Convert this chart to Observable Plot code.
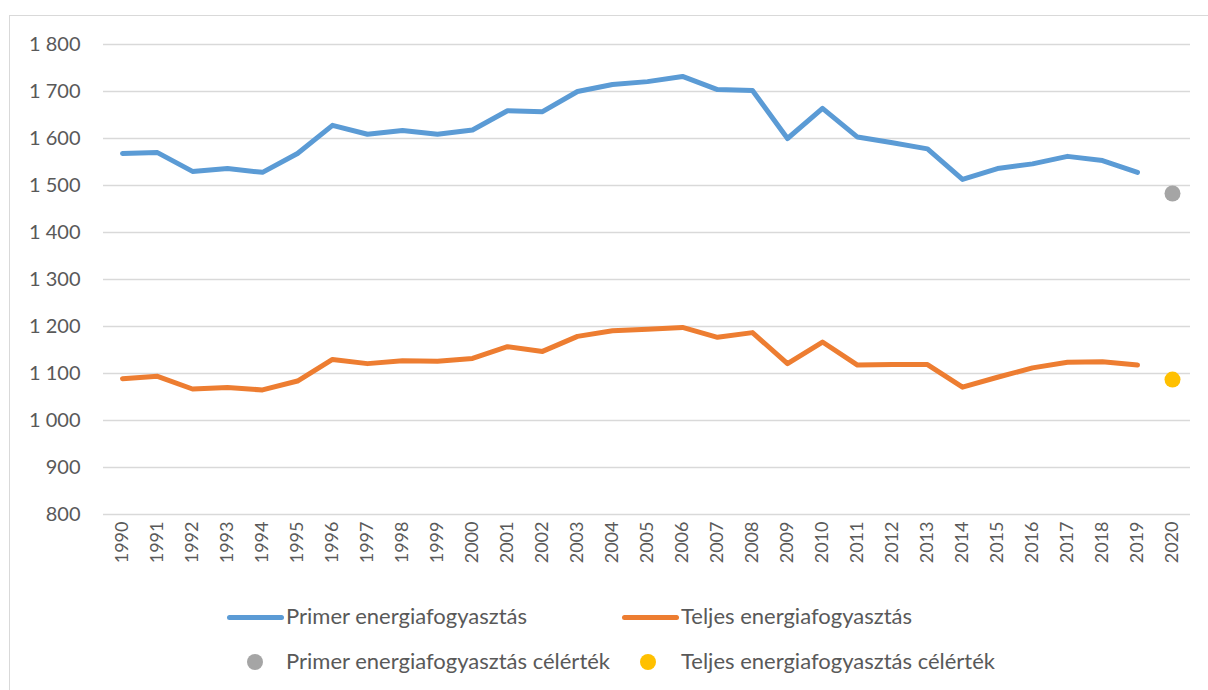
<!DOCTYPE html>
<html>
<head>
<meta charset="utf-8">
<script src="https://cdn.jsdelivr.net/npm/d3@7"></script>
<script src="https://cdn.jsdelivr.net/npm/@observablehq/plot@0.6"></script>
<style>
  html, body { margin: 0; padding: 0; background: #fff; overflow: hidden; width: 1208px; height: 690px; }
  #frame { position: absolute; left: 9px; top: 15px; width: 1400px; height: 900px; border-top: 1.5px solid #d9d9d9; border-left: 1.5px solid #d9d9d9; box-sizing: border-box; }
  #chart { position: absolute; left: 9px; top: 15px; }
  .leg { position: absolute; font-family: Lato, "Open Sans", sans-serif; font-size: 22px; color: #595959; white-space: nowrap; line-height: 1; }
  .sw-line { position: absolute; height: 5px; border-radius: 3px; }
  .sw-dot { position: absolute; width: 16px; height: 16px; border-radius: 50%; }
</style>
</head>
<body>
<div id="frame"></div>
<div id="chart"></div>
<div id="legend"></div>
<script>
const years = d3.range(1990, 2021);
const lineYears = d3.range(1990, 2020);
const primerValues = [1568, 1570, 1530, 1536, 1528, 1568, 1628, 1609, 1617, 1609,
  1618, 1659, 1657, 1700, 1715, 1721, 1732, 1704, 1702, 1600,
  1664, 1603, 1591, 1578, 1513, 1536, 1546, 1562, 1553, 1528];
const teljesValues = [1089, 1094, 1067, 1070, 1065, 1084, 1130, 1121, 1127, 1126,
  1132, 1157, 1147, 1179, 1191, 1194, 1198, 1177, 1187, 1121,
  1167, 1118, 1119, 1119, 1071, 1092, 1112, 1124, 1125, 1118];
const targetYear = 2020;
const primerTarget = 1483;
const teljesTarget = 1087;
const yTicks = d3.range(800, 1801, 100);
const seriesNames = ["Primer energiafogyasztás", "Teljes energiafogyasztás",
  "Primer energiafogyasztás célérték", "Teljes energiafogyasztás célérték"];
const colors = ["#5B9BD5", "#ED7D31", "#A5A5A5", "#FFC000"];

const primer = lineYears.map((y, i) => ({year: y, value: primerValues[i]}));
const teljes = lineYears.map((y, i) => ({year: y, value: teljesValues[i]}));
const targets = [
  {year: targetYear, value: primerTarget, s: seriesNames[2]},
  {year: targetYear, value: teljesTarget, s: seriesNames[3]}
];

const fmt = d3.formatLocale({decimal: ",", thousands: " ", grouping: [3], currency: ["", ""]}).format(",");

const chart = Plot.plot({
  width: 1199,
  height: 570,
  marginTop: 29,
  marginBottom: 71,
  marginLeft: 94,
  marginRight: 18,
  style: {fontFamily: "Lato, 'Open Sans', sans-serif", color: "#595959", background: "transparent"},
  x: {type: "point", domain: years, padding: 0.5, label: null},
  y: {domain: [800, 1800], label: null},
  marks: [
    Plot.gridY(yTicks, {stroke: "#d9d9d9", strokeOpacity: 1, strokeWidth: 1.5}),
    Plot.axisY(yTicks, {tickSize: 0, tickPadding: 23, tickFormat: fmt, fontSize: 20, fill: "#595959", label: null}),
    Plot.axisX(years, {tickSize: 0, tickPadding: 7, tickRotate: -90, tickFormat: d => String(d), fontSize: 18, fill: "#595959", label: null}),
    Plot.line(primer, {x: "year", y: "value", stroke: colors[0], strokeWidth: 5, strokeLinejoin: "round", strokeLinecap: "round"}),
    Plot.line(teljes, {x: "year", y: "value", stroke: colors[1], strokeWidth: 5, strokeLinejoin: "round", strokeLinecap: "round"}),
    Plot.dot(targets, {x: "year", y: "value", r: 8, fill: "s", stroke: null})
  ],
  color: {domain: seriesNames.slice(2), range: colors.slice(2)}
});
document.getElementById("chart").appendChild(chart);

// HTML legend
const legend = document.getElementById("legend");
const items = [
  {name: seriesNames[0], color: colors[0], type: "line", sx: 227, tx: 286, y: 617},
  {name: seriesNames[1], color: colors[1], type: "line", sx: 622, tx: 681, y: 617},
  {name: seriesNames[2], color: colors[2], type: "dot", sx: 255, tx: 286, y: 662},
  {name: seriesNames[3], color: colors[3], type: "dot", sx: 648, tx: 681, y: 662}
];
items.forEach(it => {
  const sw = document.createElement("div");
  if (it.type === "line") {
    sw.className = "sw-line";
    sw.style.left = it.sx + "px"; sw.style.width = "57px"; sw.style.top = (it.y - 2.5) + "px";
  } else {
    sw.className = "sw-dot";
    sw.style.left = (it.sx - 8) + "px"; sw.style.top = (it.y - 8) + "px";
  }
  sw.style.background = it.color;
  legend.appendChild(sw);
  const t = document.createElement("div");
  t.className = "leg";
  t.textContent = it.name;
  t.style.left = it.tx + "px"; t.style.top = (it.y - 12) + "px";
  legend.appendChild(t);
});
</script>
</body>
</html>
